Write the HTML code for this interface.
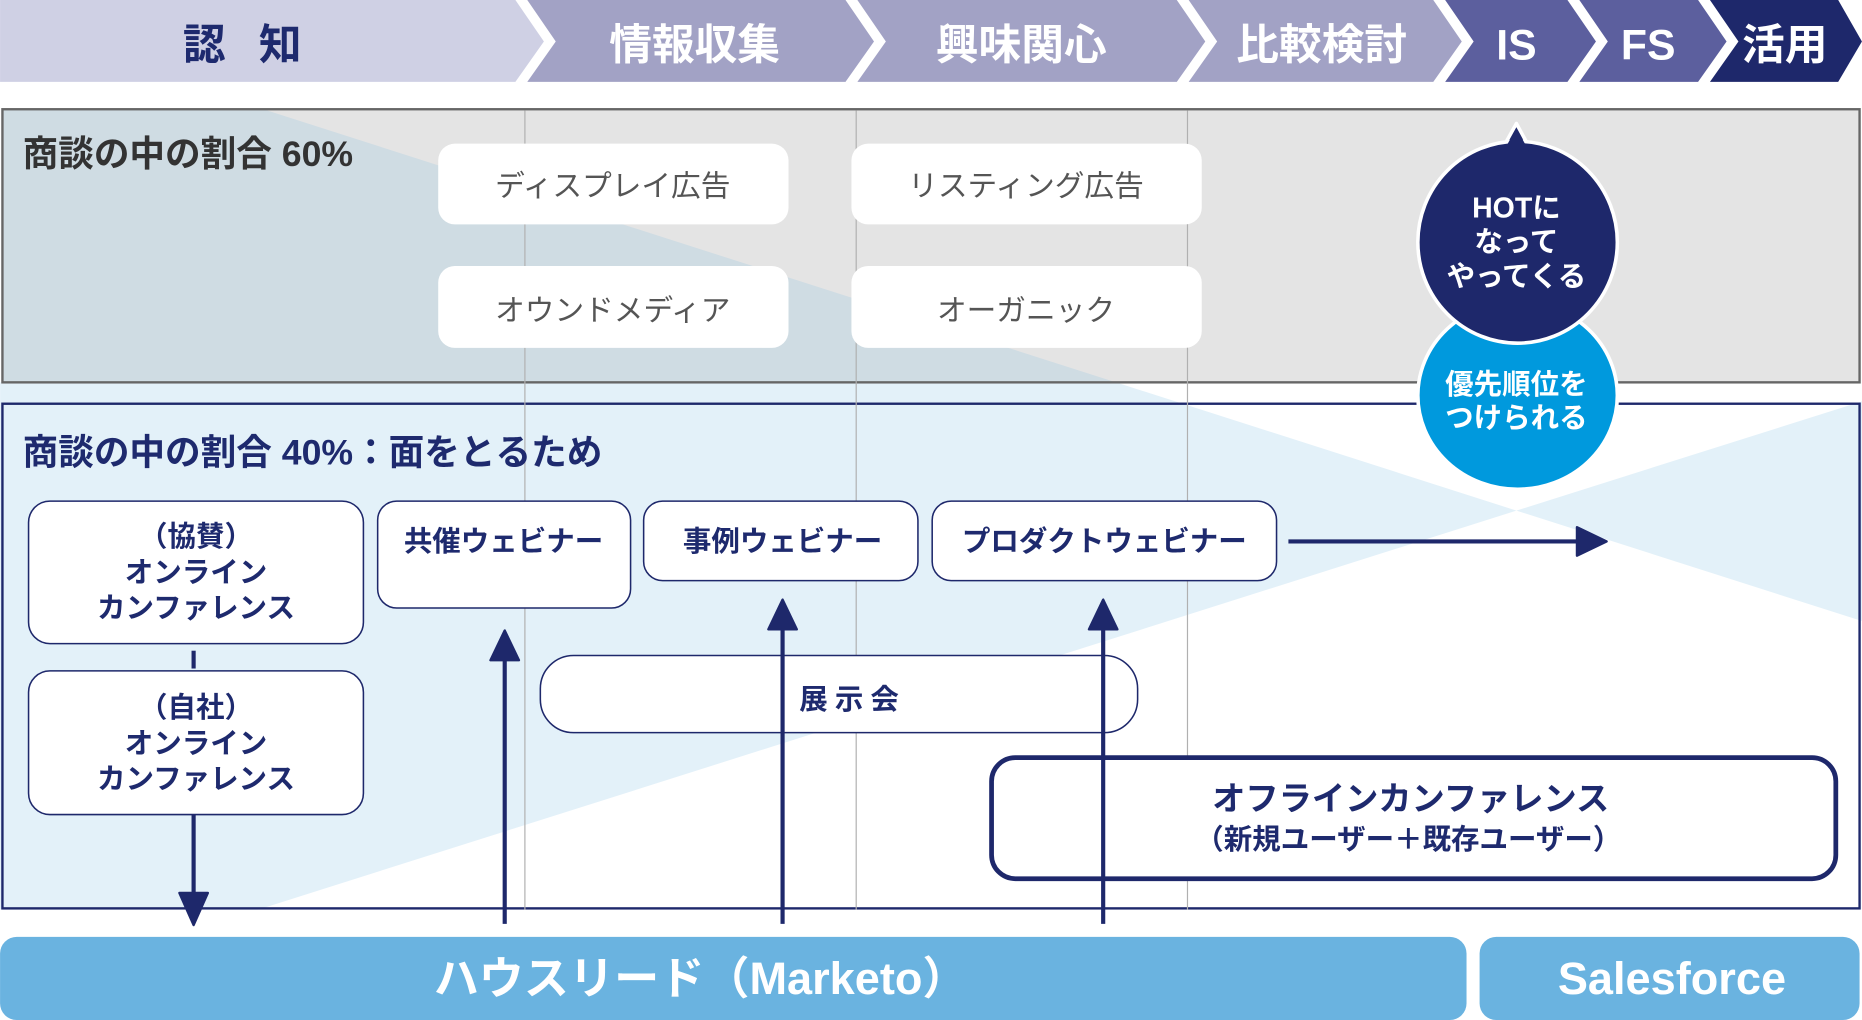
<!DOCTYPE html>
<html><head><meta charset="utf-8"><style>
html,body{margin:0;padding:0;background:#fff;}
svg{display:block;}
text{font-family:"Liberation Sans","Noto Sans CJK JP",sans-serif;font-weight:bold;}
text.n{font-weight:normal;}
</style></head><body>
<svg width="1862" height="1020" viewBox="0 0 1568 859" xmlns="http://www.w3.org/2000/svg">
<defs>
<clipPath id="cu"><rect x="2" y="92" width="1564" height="230"/></clipPath>
<clipPath id="cl"><rect x="0" y="322" width="1568" height="444"/></clipPath>
</defs>
<!-- top chevrons -->
<polygon points="0,0 434,0 458,35 434,69 0,69" fill="#cfd0e4"/>
<polygon points="444,0 712,0 736,35 712,69 444,69 468,35" fill="#a2a2c5"/>
<polygon points="722,0 991,0 1015,35 991,69 722,69 746,35" fill="#a2a2c5"/>
<polygon points="1001,0 1207,0 1231,35 1207,69 1001,69 1025,35" fill="#a2a2c5"/>
<polygon points="1217,0 1320,0 1344,35 1320,69 1217,69 1241,35" fill="#5c5f9e"/>
<polygon points="1330,0 1430,0 1454,35 1430,69 1330,69 1354,35" fill="#5c5f9e"/>
<polygon points="1440,0 1548,0 1568,35 1548,69 1440,69 1464,35" fill="#1e286b"/>
<text x="218" y="50" font-size="36" fill="#1e2a6e" text-anchor="middle" letter-spacing="28">認知</text>
<text x="585" y="50" font-size="36" fill="#fff" text-anchor="middle">情報収集</text>
<text x="860" y="50" font-size="36" fill="#fff" text-anchor="middle">興味関心</text>
<text x="1113" y="50" font-size="36" fill="#fff" text-anchor="middle">比較検討</text>
<text x="1277" y="50" font-size="36" fill="#fff" text-anchor="middle">IS</text>
<text x="1388" y="50" font-size="36" fill="#fff" text-anchor="middle">FS</text>
<text x="1503" y="50" font-size="36" fill="#fff" text-anchor="middle">活用</text>

<!-- upper box -->
<rect x="2" y="92" width="1564" height="230" fill="#e4e4e4"/>
<g clip-path="url(#cu)">
<polygon points="0,21 1277,430 0,835" fill="#cfdce3"/>
<polygon points="1277,430 1568,338 1568,523" fill="#cfdce3"/>
</g>
<!-- lower box + gap -->
<rect x="2" y="340" width="1564" height="425" fill="#fff"/>
<g clip-path="url(#cl)">
<polygon points="0,21 1277,430 0,835" fill="#e3f1f9"/>
<polygon points="1277,430 1568,338 1568,523" fill="#e3f1f9"/>
</g>
<rect x="2" y="340" width="1564" height="425" fill="none" stroke="#1e286b" stroke-width="2"/>
<rect x="2" y="92" width="1564" height="230" fill="none" stroke="#666" stroke-width="2"/>
<!-- grid lines -->
<g stroke="#b0b0b0" stroke-width="1">
<line x1="442" y1="93" x2="442" y2="766"/>
<line x1="721" y1="93" x2="721" y2="766"/>
<line x1="1000" y1="93" x2="1000" y2="766"/>
</g>

<text x="19" y="140" font-size="30" fill="#333">商談の中の割合 60%</text>
<text x="19" y="391" font-size="30" fill="#1e2a6e">商談の中の割合 40%：面をとるため</text>

<!-- upper white boxes -->
<g fill="#fff">
<rect x="369" y="121" width="295" height="68" rx="14"/>
<rect x="717" y="121" width="295" height="68" rx="14"/>
<rect x="369" y="224" width="295" height="69" rx="14"/>
<rect x="717" y="224" width="295" height="69" rx="14"/>
</g>
<g font-size="25" fill="#555" text-anchor="middle">
<text class="n" x="516" y="165">ディスプレイ広告</text>
<text class="n" x="864" y="165">リスティング広告</text>
<text class="n" x="516" y="270">オウンドメディア</text>
<text class="n" x="864" y="270">オーガニック</text>
</g>

<!-- bubbles -->
<ellipse cx="1278" cy="333" rx="84" ry="79" fill="#0099dd" stroke="#fff" stroke-width="3"/>
<path d="M1267,122 L1277,104 L1290,128 Z" fill="#1e286b" stroke="#fff" stroke-width="3" stroke-linejoin="round"/>
<ellipse cx="1278" cy="204" rx="84" ry="85" fill="#1e286b" stroke="#fff" stroke-width="3"/>
<path d="M1268,124 L1277,108 L1288,128 Z" fill="#1e286b"/>
<g font-size="24" fill="#fff" text-anchor="middle">
<text x="1277" y="183">HOTに</text>
<text x="1277" y="212">なって</text>
<text x="1277" y="241">やってくる</text>
<text x="1277" y="332">優先順位を</text>
<text x="1277" y="360">つけられる</text>
</g>

<!-- lower boxes -->
<g fill="#fff" stroke="#1e286b" stroke-width="1.3">
<rect x="24" y="422" width="282" height="120" rx="18"/>
<rect x="24" y="565" width="282" height="121" rx="18"/>
<rect x="318" y="422" width="213" height="90" rx="16"/>
<rect x="542" y="422" width="231" height="67" rx="16"/>
<rect x="785" y="422" width="290" height="67" rx="16"/>
<rect x="455" y="552" width="503" height="65" rx="28"/>
</g>
<rect x="835" y="638" width="711" height="102" rx="20" fill="#fff" stroke="#1e286b" stroke-width="4"/>

<!-- arrows -->
<g stroke="#1e286b" stroke-width="3.5" fill="none">
<line x1="163" y1="548" x2="163" y2="563"/>
<line x1="163" y1="686" x2="163" y2="755"/>
<line x1="425" y1="778" x2="425" y2="555"/>
<line x1="659" y1="778" x2="659" y2="525"/>
<line x1="929" y1="778" x2="929" y2="525"/>
<line x1="1085" y1="456" x2="1330" y2="456"/>
</g>
<g fill="#1e286b" stroke="#1e286b" stroke-width="2" stroke-linejoin="round">
<polygon points="151,752 175,752 163,779"/>
<polygon points="425,531 413,556 437,556"/>
<polygon points="659,505 647,530 671,530"/>
<polygon points="929,505 917,530 941,530"/>
<polygon points="1328,444 1328,468 1353,456"/>
</g>

<g font-size="24" fill="#1e2a6e" text-anchor="middle">
<text x="165" y="460">（協賛）</text>
<text x="165" y="490">オンライン</text>
<text x="165" y="520">カンファレンス</text>
<text x="165" y="604">（自社）</text>
<text x="165" y="634">オンライン</text>
<text x="165" y="664">カンファレンス</text>
<text x="424" y="464">共催ウェビナー</text>
<text x="659" y="464">事例ウェビナー</text>
<text x="930" y="464">プロダクトウェビナー</text>
<text x="718" y="597" letter-spacing="6">展示会</text>
<text x="1188" y="682" font-size="28">オフラインカンファレンス</text>
<text x="1186" y="715" font-size="24">（新規ユーザー＋既存ユーザー）</text>
</g>

<!-- bottom bars -->
<rect x="0" y="789" width="1235" height="70" rx="14" fill="#6ab3e0"/>
<rect x="1246" y="789" width="320" height="70" rx="14" fill="#6ab3e0"/>
<text x="590" y="837" font-size="38" fill="#fff" text-anchor="middle">ハウスリード（Marketo）</text>
<text x="1408" y="837" font-size="38" fill="#fff" text-anchor="middle">Salesforce</text>
</svg>
</body></html>
